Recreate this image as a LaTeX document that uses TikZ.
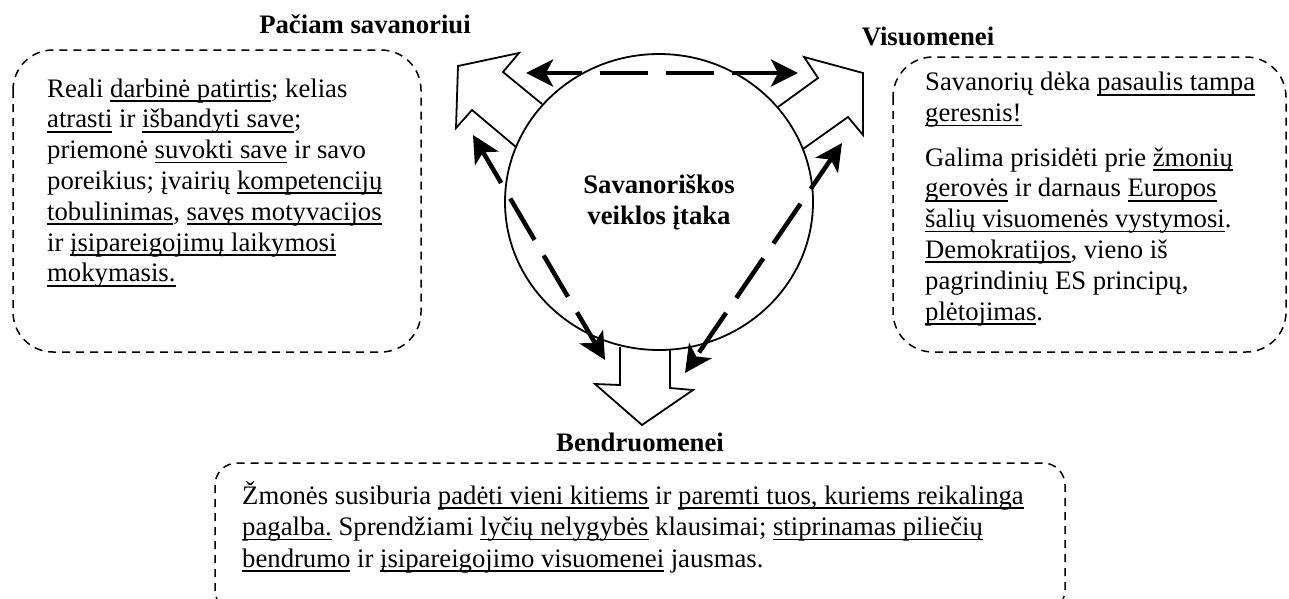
\documentclass[tikz,border=0pt]{standalone}
\usepackage{fontspec}
\setmainfont{Liberation Serif}
\usetikzlibrary{arrows.meta,shapes.geometric}
\newcommand*{\bodysize}{\fontsize{26.7}{30.8}\selectfont}
\newcommand*{\picwd}{1289}
\newcommand*{\picht}{598}
\newsavebox{\pabrbox}
\newcommand{\pabr}[1]{\sbox\pabrbox{#1}\rlap{\rule[-4.8pt]{\wd\pabrbox}{1.8pt}}\usebox\pabrbox}

\begin{document}
\begin{tikzpicture}[x=1pt, y=-1pt,
    panel/.style     = {draw, dashed, dash pattern=on 8pt off 6pt, line width=1.5pt},
    bodytext/.style  = {font=\bodysize, align=left, inner sep=0pt, anchor=base west},
    heading/.style   = {font=\bodysize\bfseries, inner sep=0pt, anchor=base},
    blockarrow/.style= {draw, fill=white, line width=1.8pt, line join=miter},
    flow/.style      = {line width=4.5pt, dash pattern=on 48pt off 18pt, dash phase=11pt,
                        {Stealth[length=27pt, width=27pt, inset=7pt]}-{Stealth[length=27pt, width=27pt, inset=7pt]}}]
    \clip (0,0) rectangle (\picwd,\picht);

    % dashed panels
    \draw [panel, rounded corners=40pt] ( 13, 50) rectangle ( 421,352);
    \draw [panel, rounded corners=40pt] (893, 57) rectangle (1286,352);
    \draw [panel, rounded corners=22pt] (215,463) rectangle (1065,612);

    \node [heading] (selfhead)  at (365, 33) {Pačiam savanoriui};
    \node [heading] (socihead)  at (928, 45) {Visuomenei};
    \node [heading] (commhead)  at (640,451) {Bendruomenei};

    % base of a multi-line node = baseline of its last line
    \node [bodytext] (selftext) at ( 47,281.8) {Reali \pabr{darbinė patirtis}; kelias\\
        \pabr{atrasti} ir \pabr{išbandyti save};\\
        priemonė \pabr{suvokti save} ir savo\\
        poreikius; įvairių \pabr{kompetencijų}\\
        \pabr{tobulinimas}, \pabr{savęs motyvacijos}\\
        ir \pabr{įsipareigojimų laikymosi}\\
        \pabr{mokymasis.}};
    \node [bodytext] (socitext) at (925,320) {Savanorių dėka \pabr{pasaulis tampa}\\
        \pabr{geresnis!}\\[13.6pt]
        Galima prisidėti prie \pabr{žmonių}\\
        \pabr{gerovės} ir darnaus \pabr{Europos}\\
        \pabr{šalių visuomenės vystymosi}.\\
        \pabr{Demokratijos}, vieno iš\\
        pagrindinių ES principų,\\
        \pabr{plėtojimas}.};
    \node [bodytext] (commtext) at (242,567) {Žmonės susiburia \pabr{padėti vieni kitiems} ir \pabr{paremti tuos, kuriems reikalinga}\\[0.7pt]
        \pabr{pagalba.} Sprendžiami \pabr{lyčių nelygybės} klausimai; \pabr{stiprinamas piliečių}\\[0.7pt]
        \pabr{bendrumo} ir \pabr{įsipareigojimo visuomenei} jausmas.};

    % block arrows out of the circle
    \draw [blockarrow] (542,104) -- (503, 72) -- (519, 53) -- (458, 66) -- (456,128) -- (472,110) -- (516,147);
    \draw [blockarrow] (778,107) -- (818, 78) -- (804, 57) -- (863, 73) -- (863,135) -- (848,117) -- (803,149);
    \draw [blockarrow] (620,347) -- (620,385) -- (595,384) -- (642,425) -- (693,390) -- (670,388) -- (670,350);

    \node [draw, ellipse, line width=1.8pt, minimum width=308pt, minimum height=296pt,
           font=\bodysize\bfseries, align=center] (hub) at (659,202) {Savanoriškos\\veiklos įtaka};

    % dashed two-way arrows
    \coordinate (topL) at (526, 73);
    \coordinate (topR) at (798, 73);
    \coordinate (leftT) at (473,135);
    \coordinate (leftB) at (605,360);
    \coordinate (rightT) at (842,143);
    \coordinate (rightB) at (685,373);
    \draw [flow] (topL) -- (topR);
    \draw [flow] (leftT) -- (leftB);
    \draw [flow] (rightT) -- (rightB);
\end{tikzpicture}
\end{document}
